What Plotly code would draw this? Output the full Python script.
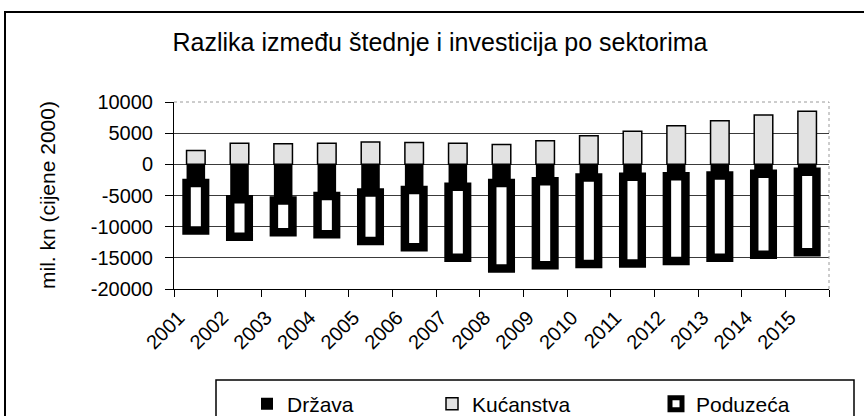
import plotly.graph_objects as go

years = [str(y) for y in range(2001, 2016)]
drzava = [-3000, -5600, -5800, -5100, -4500, -4100, -3600, -3000, -2700, -2100, -2000, -1900, -1800, -1500, -1200]
kucanstva = [2200, 3400, 3300, 3400, 3600, 3500, 3400, 3200, 3800, 4600, 5300, 6200, 7000, 7900, 8500]
poduzeca = [-7600, -6000, -5100, -6100, -7800, -9200, -11400, -13700, -13500, -13900, -13900, -13600, -13200, -13000, -12900]

y_tickvals = [10000, 5000, 0, -5000, -10000, -15000, -20000]
y_ticktext = ["10000", "5000", "0", "-5000", "-10000", "-15000", "-20000"]

W, H = 864, 416
L, R, T, B = 174, 829, 102, 289
pw, ph = R - L, B - T


def px_x(p):
    return (p - L) / pw


def px_y(p):
    return (B - p) / ph


FONT = "Liberation Sans, Arial, sans-serif"

fig = go.Figure()
fig.add_trace(go.Bar(x=years, y=drzava, name="Država",
                     marker=dict(color="black", line=dict(color="black", width=0)),
                     legend="legend"))
fig.add_trace(go.Bar(x=years, y=kucanstva, name="Kućanstva",
                     marker=dict(color="#e2e2e2", line=dict(color="black", width=1.5)),
                     legend="legend2"))
fig.add_trace(go.Bar(x=years, y=poduzeca, name="Poduzeća",
                     marker=dict(color="white", line=dict(color="black", width=8.5)),
                     legend="legend3"))

leg_common = dict(orientation="h", xref="container", yref="container",
                  xanchor="left", yanchor="middle", y=(H - 404) / H,
                  font=dict(family=FONT, size=21, color="black"),
                  bgcolor="rgba(0,0,0,0)", borderwidth=0)

fig.update_layout(
    width=W, height=H,
    margin=dict(l=L, r=W - R, t=T, b=H - B, autoexpand=False),
    paper_bgcolor="white", plot_bgcolor="white",
    barmode="relative", bargap=0.575,
    font=dict(family=FONT, color="black"),
    title=dict(text="Razlika između štednje i investicija po sektorima",
               x=440 / W, xanchor="center", xref="container",
               y=1 - 42 / H, yanchor="middle", yref="container",
               font=dict(family=FONT, size=25, color="black")),
    showlegend=True,
    legend=dict(x=247 / W, **leg_common),
    legend2=dict(x=432 / W, **leg_common),
    legend3=dict(x=656 / W, **leg_common),
    xaxis=dict(type="category", showline=True, linecolor="black", linewidth=1,
               ticks="outside", tickson="boundaries", ticklen=7, tickcolor="black",
               tickangle=-45, tickfont=dict(family=FONT, size=20, color="black"),
               ticklabelshift=-17, ticklabelstandoff=8,
               showgrid=False, fixedrange=True),
    yaxis=dict(range=[-20000, 10000], tickvals=y_tickvals, ticktext=y_ticktext,
               showline=True, linecolor="black", linewidth=1,
               ticks="outside", ticklen=8, tickcolor="black",
               tickfont=dict(family=FONT, size=20, color="black"),
               ticklabelstandoff=8,
               showgrid=True, gridcolor="#3a3a3a", gridwidth=1,
               zeroline=False, fixedrange=True),
)

shapes = [
    # white cover + dotted top border of plot area
    dict(type="line", xref="paper", yref="paper", x0=0, x1=1, y0=1, y1=1,
         line=dict(color="white", width=2), layer="above"),
    dict(type="line", xref="paper", yref="paper", x0=0, x1=1, y0=1, y1=1,
         line=dict(color="#9a9a9a", width=1, dash="dot"), layer="above"),
    dict(type="line", xref="paper", yref="paper", x0=1, x1=1, y0=0, y1=1,
         line=dict(color="#9a9a9a", width=1, dash="dot"), layer="above"),
    # outer chart frame
    dict(type="rect", xref="paper", yref="paper",
         x0=px_x(5), x1=px_x(880), y0=px_y(440), y1=px_y(12),
         line=dict(color="black", width=2), fillcolor="rgba(0,0,0,0)", layer="below"),
    # legend frame
    dict(type="rect", xref="paper", yref="paper",
         x0=px_x(216), x1=px_x(854), y0=px_y(440), y1=px_y(380),
         line=dict(color="black", width=1.5), fillcolor="rgba(0,0,0,0)", layer="below"),
]
fig.update_layout(shapes=shapes)

fig.add_annotation(text="mil. kn (cijene 2000)", textangle=-90,
                   xref="paper", yref="paper", x=px_x(47), y=px_y(195),
                   xanchor="center", yanchor="middle", showarrow=False,
                   font=dict(family=FONT, size=21, color="black"))

fig.write_html("out.html", config={"displayModeBar": False},
               post_script="document.body.style.margin='0';document.body.style.overflow='hidden';")
